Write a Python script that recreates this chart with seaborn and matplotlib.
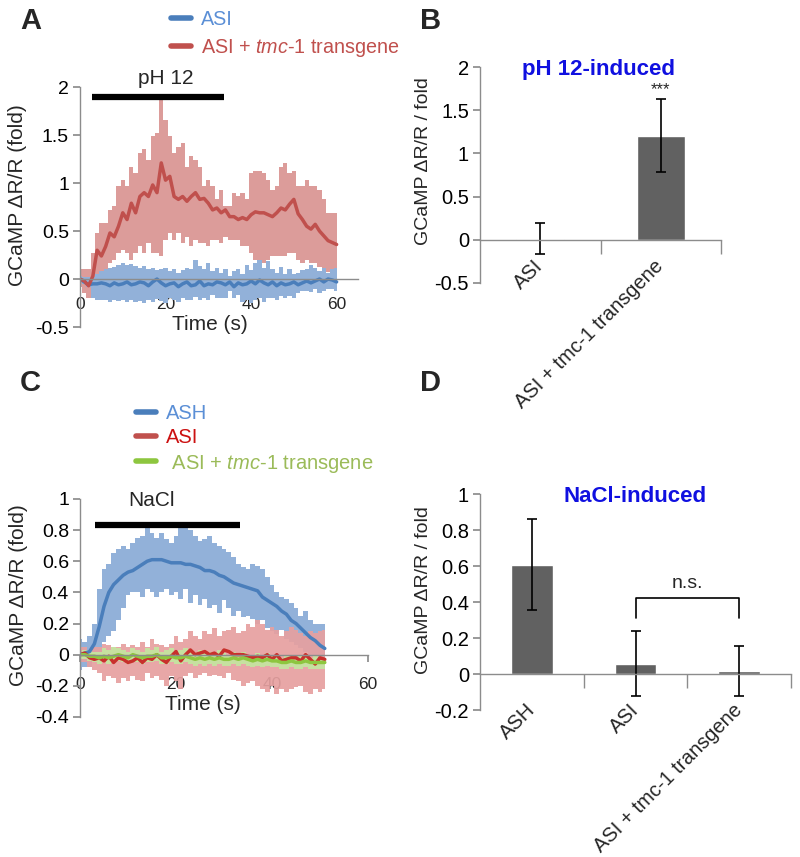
import numpy as np
import matplotlib
matplotlib.use("Agg")
import matplotlib.pyplot as plt
import seaborn as sns
from matplotlib.lines import Line2D
from matplotlib.ticker import FuncFormatter

# ---- panel A : pH 12 traces (1 s samples) ----
time_a = np.arange(0, 61)
asi_a_mean = [0.00, -0.03, -0.06, -0.05, -0.05, -0.04, -0.05, -0.07, -0.04, -0.06,
              -0.05, -0.03, -0.06, -0.05, -0.03, -0.04, -0.07, -0.03, 0.00, -0.04,
              -0.07, -0.05, -0.04, -0.08, -0.05, -0.03, -0.07, -0.06, -0.02, -0.07,
              -0.05, -0.06, -0.03, -0.04, -0.06, -0.03, -0.08, -0.04, -0.06, -0.05,
              -0.02, -0.05, -0.01, -0.04, -0.06, -0.03, -0.07, -0.04, -0.06, -0.05,
              -0.03, -0.06, -0.04, -0.02, -0.04, -0.02, 0.00, -0.03, 0.00, -0.01, -0.03]
asi_a_upper = [0.03, 0.02, 0.02, 0.02, 0.05, 0.08, 0.10, 0.12, 0.13, 0.15,
               0.17, 0.15, 0.16, 0.14, 0.12, 0.14, 0.10, 0.12, 0.09, 0.10,
               0.12, 0.08, 0.10, 0.06, 0.09, 0.11, 0.10, 0.20, 0.14, 0.10,
               0.17, 0.08, 0.12, 0.06, 0.10, 0.03, 0.08, 0.10, 0.05, 0.15,
               0.09, 0.17, 0.20, 0.12, 0.19, 0.10, 0.06, 0.13, 0.05, 0.10,
               0.05, 0.06, 0.09, 0.10, 0.15, 0.12, 0.08, 0.12, 0.06, 0.10, 0.12]
asi_a_lower = [-0.03, -0.05, -0.08, -0.20, -0.22, -0.22, -0.22, -0.24, -0.22, -0.23,
               -0.22, -0.24, -0.22, -0.24, -0.23, -0.25, -0.22, -0.24, -0.21, -0.23,
               -0.25, -0.20, -0.22, -0.24, -0.20, -0.22, -0.22, -0.19, -0.22, -0.20,
               -0.22, -0.17, -0.20, -0.20, -0.20, -0.12, -0.20, -0.17, -0.24, -0.22,
               -0.25, -0.22, -0.20, -0.24, -0.20, -0.20, -0.22, -0.18, -0.20, -0.18,
               -0.20, -0.15, -0.12, -0.12, -0.14, -0.10, -0.15, -0.12, -0.10, -0.10, -0.12]
tmc_a_mean = [0.00, -0.02, -0.07, 0.03, 0.30, 0.24, 0.34, 0.48, 0.44, 0.55,
              0.69, 0.62, 0.79, 0.69, 0.86, 0.90, 0.86, 0.98, 0.90, 1.21,
              1.03, 1.07, 0.86, 0.83, 0.86, 0.81, 0.86, 0.90, 0.83, 0.84,
              0.79, 0.72, 0.74, 0.69, 0.72, 0.65, 0.65, 0.62, 0.64, 0.62,
              0.67, 0.70, 0.69, 0.69, 0.67, 0.65, 0.69, 0.74, 0.72, 0.78,
              0.83, 0.68, 0.62, 0.55, 0.52, 0.57, 0.50, 0.45, 0.40, 0.38, 0.36]
tmc_a_upper = [0.10, 0.10, 0.10, 0.27, 0.48, 0.58, 0.58, 0.72, 0.76, 0.97,
               1.03, 0.97, 1.17, 1.10, 1.31, 1.35, 1.24, 1.49, 1.52, 1.90,
               1.66, 1.49, 1.31, 1.38, 1.42, 1.17, 1.28, 1.24, 1.17, 0.97,
               1.03, 0.97, 0.83, 0.93, 0.76, 0.76, 0.90, 0.86, 0.90, 0.83,
               1.10, 1.13, 1.13, 1.10, 1.03, 0.93, 0.97, 1.17, 1.21, 1.10,
               1.13, 0.97, 0.97, 1.03, 0.97, 0.97, 0.93, 0.83, 0.69, 0.69, 0.69]
tmc_a_lower = [-0.08, -0.15, -0.20, -0.10, 0.03, 0.03, 0.10, 0.17, 0.20, 0.27,
               0.30, 0.27, 0.20, 0.27, 0.34, 0.27, 0.38, 0.27, 0.27, 0.24,
               0.41, 0.48, 0.41, 0.48, 0.38, 0.44, 0.34, 0.41, 0.38, 0.38,
               0.34, 0.41, 0.41, 0.38, 0.44, 0.41, 0.41, 0.41, 0.34, 0.34,
               0.27, 0.20, 0.17, 0.17, 0.20, 0.24, 0.24, 0.24, 0.24, 0.27,
               0.27, 0.20, 0.17, 0.20, 0.17, 0.17, 0.13, 0.10, 0.07, 0.08, 0.10]

# ---- panel C : NaCl traces (1 s samples) ----
time_c = np.arange(0, 52)
ash_c_mean = [0.00, 0.01, 0.02, 0.07, 0.18, 0.31, 0.40, 0.45, 0.48, 0.51,
              0.53, 0.54, 0.56, 0.58, 0.60, 0.61, 0.61, 0.61, 0.60, 0.59,
              0.59, 0.59, 0.58, 0.58, 0.57, 0.56, 0.54, 0.54, 0.53, 0.51,
              0.50, 0.48, 0.46, 0.45, 0.44, 0.43, 0.42, 0.41, 0.37, 0.35,
              0.33, 0.31, 0.28, 0.26, 0.22, 0.20, 0.17, 0.14, 0.11, 0.09,
              0.06, 0.04]
ash_c_upper = [0.10, 0.08, 0.12, 0.20, 0.42, 0.55, 0.58, 0.65, 0.68, 0.70,
               0.68, 0.72, 0.75, 0.76, 0.85, 0.78, 0.75, 0.78, 0.74, 0.72,
               0.76, 0.82, 0.85, 0.80, 0.76, 0.73, 0.74, 0.76, 0.72, 0.70,
               0.68, 0.66, 0.63, 0.58, 0.56, 0.55, 0.58, 0.57, 0.55, 0.50,
               0.45, 0.40, 0.37, 0.36, 0.33, 0.30, 0.25, 0.28, 0.22, 0.20,
               0.20, 0.20]
ash_c_lower = [-0.10, -0.08, -0.08, -0.05, 0.00, 0.08, 0.12, 0.15, 0.22, 0.30,
               0.38, 0.40, 0.40, 0.37, 0.42, 0.40, 0.37, 0.40, 0.42, 0.38,
               0.40, 0.36, 0.42, 0.33, 0.38, 0.32, 0.36, 0.30, 0.32, 0.27,
               0.35, 0.30, 0.25, 0.28, 0.24, 0.25, 0.23, 0.20, 0.22, 0.17,
               0.15, 0.13, 0.16, 0.10, 0.08, 0.06, 0.04, 0.02, 0.00, -0.02,
               -0.05, -0.08]
asi_c_mean = [0.00, 0.01, -0.02, -0.03, -0.02, -0.04, -0.01, -0.05, -0.02, -0.03,
              -0.05, -0.04, -0.02, -0.05, -0.02, -0.03, 0.00, -0.03, -0.05, -0.01,
              0.02, -0.04, 0.00, 0.03, 0.00, 0.01, 0.02, 0.00, 0.01, -0.01,
              0.03, 0.02, 0.00, 0.00, 0.00, -0.01, -0.02, -0.01, -0.02, 0.00,
              -0.03, 0.00, -0.04, -0.03, -0.02, -0.02, -0.04, 0.00, -0.03, -0.06,
              -0.02, -0.03]
asi_c_upper = [0.05, 0.05, 0.03, 0.05, 0.05, 0.07, 0.06, 0.05, 0.05, 0.07,
               0.05, 0.06, 0.05, 0.08, 0.05, 0.10, 0.07, 0.06, 0.05, 0.07,
               0.12, 0.08, 0.10, 0.15, 0.12, 0.10, 0.15, 0.13, 0.17, 0.12,
               0.15, 0.16, 0.18, 0.14, 0.15, 0.20, 0.18, 0.22, 0.20, 0.16,
               0.18, 0.16, 0.12, 0.15, 0.18, 0.16, 0.14, 0.12, 0.15, 0.14,
               0.15, 0.16]
asi_c_lower = [-0.05, -0.05, -0.08, -0.10, -0.12, -0.17, -0.14, -0.15, -0.18, -0.15,
               -0.17, -0.14, -0.16, -0.17, -0.12, -0.15, -0.14, -0.16, -0.20, -0.14,
               -0.17, -0.22, -0.14, -0.12, -0.15, -0.13, -0.12, -0.14, -0.13, -0.14,
               -0.15, -0.12, -0.16, -0.17, -0.20, -0.18, -0.17, -0.20, -0.22, -0.24,
               -0.20, -0.25, -0.22, -0.24, -0.22, -0.21, -0.20, -0.24, -0.25, -0.22,
               -0.24, -0.22]
tmc_c_mean = [0.00, 0.00, -0.01, -0.01, -0.02, -0.01, -0.02, -0.01, 0.00, -0.01,
              -0.02, 0.00, -0.01, -0.02, -0.01, -0.01, 0.00, -0.02, -0.02, -0.01,
              -0.02, -0.02, -0.01, -0.02, -0.03, -0.02, -0.03, -0.02, -0.03, -0.02,
              -0.03, -0.03, -0.02, -0.03, -0.02, -0.03, -0.04, -0.03, -0.04, -0.03,
              -0.04, -0.04, -0.05, -0.05, -0.04, -0.05, -0.05, -0.04, -0.05, -0.05,
              -0.05, -0.05]
tmc_c_upper = [0.02, 0.03, 0.03, 0.02, 0.02, 0.04, 0.03, 0.05, 0.04, 0.03,
               0.02, 0.04, 0.03, 0.02, 0.04, 0.03, 0.05, 0.02, 0.03, 0.04,
               0.02, 0.03, 0.04, 0.02, 0.01, 0.03, 0.01, 0.02, 0.01, 0.03,
               0.01, 0.00, 0.02, 0.01, 0.02, 0.00, -0.01, 0.01, 0.00, 0.01,
               -0.01, 0.00, -0.02, -0.01, 0.00, -0.02, -0.01, 0.00, -0.02, -0.01,
               -0.02, -0.02]
tmc_c_lower = [-0.03, -0.03, -0.04, -0.05, -0.06, -0.04, -0.06, -0.05, -0.04, -0.05,
               -0.06, -0.04, -0.05, -0.06, -0.05, -0.05, -0.04, -0.06, -0.06, -0.05,
               -0.06, -0.06, -0.05, -0.06, -0.07, -0.06, -0.07, -0.06, -0.07, -0.06,
               -0.07, -0.07, -0.06, -0.07, -0.06, -0.07, -0.08, -0.07, -0.08, -0.07,
               -0.08, -0.08, -0.09, -0.09, -0.08, -0.09, -0.09, -0.08, -0.09, -0.09,
               -0.09, -0.09]

# stimulus windows (s) and bar height
stim_a = (2.8, 33.6, 1.9)
stim_c = (3.1, 33.3, 0.835)

# ---- panel B / D : bar summaries ----
cats_b = ["ASI", "ASI + tmc-1 transgene"]
vals_b = [0.01, 1.20]
err_lo_b = [0.18, 0.42]
err_hi_b = [0.19, 0.43]

cats_d = ["ASH", "ASI", "ASI + tmc-1 transgene"]
vals_d = [0.605, 0.055, 0.015]
err_lo_d = [0.25, 0.175, 0.135]
err_hi_d = [0.255, 0.185, 0.14]

tmc_label = "ASI + $\\mathit{tmc}$-$\\mathit{1}$ transgene"

# colours
BLUE, BLUE_BAND = "#4a7ebb", "#92b1d9"
RED, RED_BAND = "#c0504d", "#dc9c9a"
RED_C, RED_C_BAND = "#c8302c", "#e6a0a0"
GREEN, GREEN_BAND = "#8dc63f", "#c6e0a0"
AXC = "#8c8c8c"
BARC = "#616161"

sns.set_theme(style="white")
plt.rcParams['font.family'] = ['Liberation Sans', 'DejaVu Sans']
plt.rcParams['mathtext.fontset'] = 'custom'
plt.rcParams['mathtext.rm'] = 'Liberation Sans'
plt.rcParams['mathtext.it'] = 'Liberation Sans:italic'
plt.rcParams['axes.unicode_minus'] = False

fmt = FuncFormatter(lambda v, p: f"{v:g}")


def style_axis(ax, ylim, yticks, ysize=14):
    ax.set_ylim(*ylim)
    ax.set_yticks(yticks)
    ax.yaxis.set_major_formatter(fmt)
    for s in ["top", "right"]:
        ax.spines[s].set_visible(False)
    for s in ["left", "bottom"]:
        ax.spines[s].set_color(AXC)
        ax.spines[s].set_linewidth(1.0)
    ax.spines["bottom"].set_position(("data", 0))
    ax.tick_params(axis="y", which="both", left=True, direction="out",
                   length=5, color=AXC, labelsize=ysize, pad=3, labelcolor="black")


fig = plt.figure(figsize=(8, 8.57), dpi=100)

# ================= A =================
axA = fig.add_axes([0.1, 0.6184, 0.3475, 0.2800])
axA.fill_between(time_a, tmc_a_lower, tmc_a_upper, step="mid", color=RED_BAND, lw=0)
axA.fill_between(time_a, asi_a_lower, asi_a_upper, step="mid", color=BLUE_BAND, lw=0)
sns.lineplot(x=time_a, y=asi_a_mean, ax=axA, color=BLUE, lw=2.5)
sns.lineplot(x=time_a, y=tmc_a_mean, ax=axA, color=RED, lw=2.5)
axA.plot(stim_a[:2], [stim_a[2]] * 2, color="black", lw=4.5, solid_capstyle="butt")
axA.text(20, 2.09, "pH 12", ha="center", va="center", fontsize=15)
axA.set_xlim(0, 65)
axA.set_xticks([0, 20, 40, 60])
style_axis(axA, (-0.5, 2.0), [-0.5, 0, 0.5, 1, 1.5, 2])
axA.tick_params(axis="x", bottom=True, length=0, labelsize=12.5, pad=13)
axA.set_xlabel("Time (s)", fontsize=15, va="top")
axA.xaxis.set_label_coords(0.468, 0.05)
axA.set_ylabel("GCaMP \u0394R/R (fold)", fontsize=15)
axA.yaxis.set_label_coords(-0.19, 0.55)

legA = [Line2D([], [], color=BLUE, lw=4), Line2D([], [], color=RED, lw=4)]
fig.legend(legA, ["ASI", tmc_label], loc="upper left", bbox_to_anchor=(0.197, 1.005),
           frameon=False, fontsize=14.2, handlelength=1.0, handletextpad=0.5,
           labelspacing=0.45, borderpad=0.2, labelcolor=["#5b8fd6", RED])

# ================= C =================
axC = fig.add_axes([0.1, 0.1634, 0.36, 0.2544])
axC.fill_between(time_c, ash_c_lower, ash_c_upper, step="mid", color=BLUE_BAND, lw=0)
axC.fill_between(time_c, asi_c_lower, asi_c_upper, step="mid", color=RED_C_BAND, lw=0, alpha=0.92)
axC.fill_between(time_c, tmc_c_lower, tmc_c_upper, step="mid", color=GREEN_BAND, lw=0)
sns.lineplot(x=time_c, y=ash_c_mean, ax=axC, color=BLUE, lw=2.5)
sns.lineplot(x=time_c, y=asi_c_mean, ax=axC, color=RED_C, lw=2.5)
sns.lineplot(x=time_c, y=tmc_c_mean, ax=axC, color=GREEN, lw=2.5)
axC.plot(stim_c[:2], [stim_c[2]] * 2, color="black", lw=4.5, solid_capstyle="butt")
axC.text(15, 0.99, "NaCl", ha="center", va="center", fontsize=15)
axC.set_xlim(0, 60)
axC.set_xticks([0, 20, 40, 60])
style_axis(axC, (-0.4, 1.0), [-0.4, -0.2, 0, 0.2, 0.4, 0.6, 0.8, 1])
axC.tick_params(axis="x", bottom=True, direction="out", length=5, color=AXC,
                labelsize=12.5, pad=11)
axC.set_xlabel("Time (s)", fontsize=15, va="top")
axC.xaxis.set_label_coords(0.427, 0.1)
axC.set_ylabel("GCaMP \u0394R/R (fold)", fontsize=15)
axC.yaxis.set_label_coords(-0.18, 0.56)

legC = [Line2D([], [], color=BLUE, lw=4), Line2D([], [], color=RED, lw=4),
        Line2D([], [], color=GREEN, lw=4)]
fig.legend(legC, ["ASH", "ASI", " " + tmc_label], loc="upper left",
           bbox_to_anchor=(0.152, 0.5445), frameon=False, fontsize=14.5,
           handlelength=1.0, handletextpad=0.5, labelspacing=0.25, borderpad=0.2,
           labelcolor=["#5b8fd6", "#cc1111", "#9bbb59"])


# ================= bars =================
def bar_panel(ax, cats, vals, lo, hi, ylim, yticks, title, title_x, title_y, pad):
    sns.barplot(x=cats, y=vals, ax=ax, color=BARC, saturation=1, width=0.4)
    ax.errorbar(range(len(cats)), vals, yerr=[lo, hi], fmt="none", ecolor="black",
                elinewidth=1.2, capsize=3.5, capthick=1.2)
    ax.set_xlim(-0.5, len(cats) - 0.5)
    style_axis(ax, ylim, yticks, ysize=14.5)
    ax.set_xticks(np.arange(len(cats)) + 0.5, minor=True)
    ax.tick_params(axis="x", which="minor", bottom=True, direction="out",
                   length=10, color=AXC)
    ax.tick_params(axis="x", which="major", bottom=False, length=0, pad=pad)
    ax.set_xticks(range(len(cats)))
    ax.set_xticklabels(cats, rotation=45, ha="right", va="center",
                       rotation_mode="anchor", fontsize=14.5)
    ax.set_ylabel("GCaMP \u0394R/R / fold", fontsize=14)
    ax.text(title_x, title_y, title, ha="center", va="center",
            color="#1010e0", fontsize=16, fontweight="bold")


axB = fig.add_axes([0.6, 0.6698, 0.30125, 0.2520])
bar_panel(axB, cats_b, vals_b, err_lo_b, err_hi_b, (-0.5, 2.0),
          [-0.5, 0, 0.5, 1, 1.5, 2], "pH 12-induced", 0.48, 1.97, 17)
axB.yaxis.set_label_coords(-0.2, 0.565)
axB.text(1, vals_b[1] + err_hi_b[1] + 0.02, "***", ha="center", va="bottom", fontsize=12)

axD = fig.add_axes([0.6, 0.1715, 0.38875, 0.2520])
bar_panel(axD, cats_d, vals_d, err_lo_d, err_hi_d, (-0.2, 1.0),
          [-0.2, 0, 0.2, 0.4, 0.6, 0.8, 1], "NaCl-induced", 1.0, 0.985, 24)
axD.yaxis.set_label_coords(-0.154, 0.556)
axD.plot([1, 1, 2, 2], [0.31, 0.42, 0.42, 0.31], color="black", lw=1.2)
axD.text(1.5, 0.455, "n.s.", ha="center", va="bottom", fontsize=14)

# panel letters
for lbl, x, y in [("A", 0.025, 0.975), ("B", 0.525, 0.975),
                  ("C", 0.025, 0.553), ("D", 0.525, 0.553)]:
    fig.text(x, y, lbl, fontsize=21, fontweight="bold", ha="left", va="center")

fig.savefig("out.png", dpi=100)
